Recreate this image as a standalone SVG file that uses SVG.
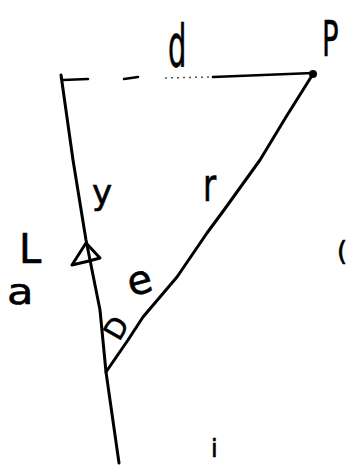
<svg xmlns="http://www.w3.org/2000/svg" width="349" height="465" viewBox="0 0 349 465">
<style>
.ln{fill:none;stroke:#000;stroke-width:3;stroke-linecap:round;stroke-linejoin:round}
.dash{fill:none;stroke:#000;stroke-width:2.5;stroke-linecap:round}
.faint{fill:none;stroke:#555;stroke-width:1.5;stroke-dasharray:2 4}
.lbl{font-family:"DejaVu Sans",sans-serif;fill:#000;stroke:#000;stroke-width:0.6}
</style>
<rect width="349" height="465" fill="#fff"/>
<g id="connectors">
<polyline class="ln" points="61,75 73,160 86,240 100,310 106,372 119,463"/>
<polyline class="ln" points="313,74 286,117 260,160 224,210 207,233 177,277 143,317 128,340 106,372"/>
<path class="dash" d="M63,80 L88,79 M124,79 L138,77 M213,77 L313,73"/>
<path class="faint" d="M165,78 L210,77"/>
<path class="ln" d="M86,243 L72,265 Q86,262 100,258 Z"/>
</g>
<g id="node-P">
<circle cx="313" cy="74" r="4" fill="#000"/>
<text class="lbl" x="322" y="56" font-size="50" transform="translate(322 56) scale(0.55 1) translate(-322 -56)">P</text>
</g>
<g id="label-d"><text class="lbl" x="168" y="67" font-size="58" transform="translate(168 67) scale(0.5 1) translate(-168 -67)">d</text></g>
<g id="label-y"><text class="lbl" x="92" y="204" font-size="34">y</text></g>
<g id="label-r"><text class="lbl" x="203" y="201" font-size="46" transform="translate(203 201) scale(0.7 1) translate(-203 -201)">r</text></g>
<g id="label-L"><text class="lbl" x="19" y="263" font-size="40">L</text></g>
<g id="label-e"><text class="lbl" x="128" y="294" font-size="40" transform="rotate(-15 140 284)">e</text></g>
<g id="label-a"><text class="lbl" x="7" y="304" font-size="36" transform="translate(7 304) scale(1.2 1) translate(-7 -304)">a</text></g>
<g id="label-D"><text class="lbl" x="104" y="336" font-size="28" transform="rotate(-60 117 326)">D</text></g>
<g id="label-i"><text class="lbl" x="211" y="457" font-size="24">i</text></g>
<g id="label-edge"><text class="lbl" x="337" y="260" font-size="26">(</text></g>
</svg>
